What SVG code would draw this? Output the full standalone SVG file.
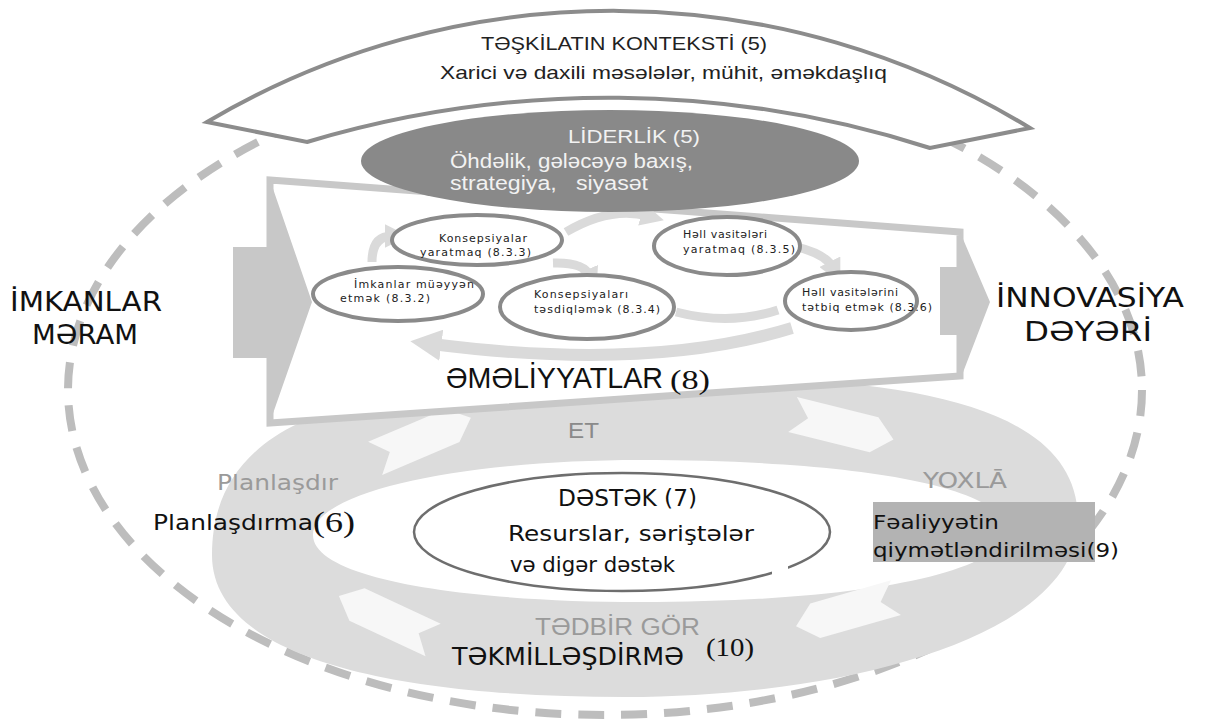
<svg xmlns="http://www.w3.org/2000/svg" width="1208" height="723" viewBox="0 0 1208 723">
<style>
.cond{font-family:"Liberation Sans Narrow","Liberation Sans",sans-serif}
.ver{font-family:"DejaVu Sans","Liberation Sans",sans-serif}
.ser{font-family:"Liberation Serif","DejaVu Serif",serif}
.node ellipse{fill:#fff;stroke:#8a8a8a;stroke-width:4}
.node text{font-family:"DejaVu Sans",sans-serif;font-size:11px;fill:#222}
.loop{fill:none;stroke:#dadada;stroke-width:9}
.chev{fill:#f7f7f7}
</style>
<defs>
<marker id="ah" viewBox="0 0 10 10" refX="3" refY="5" markerWidth="2.6" markerHeight="2.6" orient="auto" markerUnits="strokeWidth">
<path d="M0,0 L10,5 L0,10 Z" fill="#dadada"/>
</marker>
<path id="chevron" d="M-52,-18 L32,-18 L52,0 L32,18 L-52,18 L-36,0 Z"/>
</defs>
<rect width="1208" height="723" fill="#fff"/>

<ellipse cx="605" cy="390" rx="537" ry="325" fill="none" stroke="#bdbdbd" stroke-width="8" stroke-dasharray="26 17"/>

<g id="cycle">
<path fill="#dcdcdc" fill-rule="evenodd" d="M212,555 C212,400 400,378 640,378 C910,372 1078,405 1078,520 C1078,635 850,697 625,697 C400,697 212,660 212,555 Z M313,535 C313,490 470,460 640,460 C850,460 1005,485 1005,530 C1005,575 850,602 640,602 C470,602 313,580 313,535 Z"/>
<use href="#chevron" class="chev" transform="translate(423,438) rotate(-23)"/>
<use href="#chevron" class="chev" transform="translate(843,427) rotate(14)"/>
<use href="#chevron" class="chev" transform="translate(846,612) rotate(164)"/>
<use href="#chevron" class="chev" transform="translate(386,618) rotate(205)"/>
</g>

<g id="support">
<ellipse cx="622" cy="532" rx="208" ry="59" fill="#fff" stroke="#6e6e6e" stroke-width="2.5"/>
<rect x="772" y="566" width="16" height="16" fill="#fff"/>
</g>

<g id="operations">
<path d="M270,180 L960,232 L960,376 L270,423 Z" fill="#fff" stroke="#c8c8c8" stroke-width="7" stroke-linejoin="miter"/>
<polygon points="233,247 270,247 270,180 312,302 270,422 270,358 233,358" fill="#c8c8c8"/>
<polygon points="940,267 960,267 960,232 990,302 962,375 962,335 940,335" fill="#c8c8c8"/>
</g>

<g id="connectors">
<path class="loop" d="M372,262 Q372,236 392,236" marker-end="url(#ah)"/>
<path class="loop" d="M566,232 Q610,206 648,216" marker-end="url(#ah)"/>
<path class="loop" d="M553,263 Q584,262 590,276" marker-end="url(#ah)"/>
<path class="loop" d="M797,247 Q826,254 833,268" marker-end="url(#ah)"/>
<path class="loop" d="M676,312 Q730,326 778,310"/>
<path class="loop" style="stroke-width:12" d="M792,328 Q650,372 432,344" marker-end="url(#ah)"/>
</g>

<g id="node-8-3-3" class="node">
<ellipse cx="477" cy="240" rx="85" ry="25"/>
<text x="439" y="242" textLength="88">Konsepsiyalar</text>
<text x="420" y="256" textLength="111">yaratmaq (8.3.3)</text>
</g>
<g id="node-8-3-2" class="node">
<ellipse cx="398" cy="294" rx="85" ry="27"/>
<text x="354" y="288" textLength="120">İmkanlar müəyyən</text>
<text x="340" y="302" textLength="90">etmək (8.3.2)</text>
</g>
<g id="node-8-3-4" class="node">
<ellipse cx="587" cy="307" rx="87" ry="32"/>
<text x="534" y="298" textLength="94">Konsepsiyaları</text>
<text x="534" y="313" textLength="126">təsdiqləmək (8.3.4)</text>
</g>
<g id="node-8-3-5" class="node">
<ellipse cx="727" cy="246" rx="73" ry="29"/>
<text x="683" y="238" textLength="84">Həll vasitələri</text>
<text x="683" y="253" textLength="112">yaratmaq (8.3.5)</text>
</g>
<g id="node-8-3-6" class="node">
<ellipse cx="851" cy="301" rx="66" ry="29"/>
<text x="802" y="296" textLength="96">Həll vasitələrini</text>
<text x="802" y="311" textLength="130">tətbiq etmək (8.3.6)</text>
</g>

<g id="context">
<path d="M207,122 A799,799 0 0 1 1030,128 L930,148 A1050,1050 0 0 0 307,142 Z" fill="#fff" stroke="#8c8c8c" stroke-width="4" stroke-linejoin="miter"/>
<text class="cond" x="481" y="50" font-size="19" fill="#222" textLength="286" lengthAdjust="spacingAndGlyphs">TƏŞKİLATIN KONTEKSTİ (5)</text>
<text class="cond" x="440" y="79" font-size="19" fill="#222" textLength="447" lengthAdjust="spacingAndGlyphs">Xarici və daxili məsələlər, mühit, əməkdaşlıq</text>
</g>

<g id="leadership">
<ellipse cx="610" cy="161" rx="249" ry="51" fill="#898989"/>
<text class="cond" x="568" y="143" font-size="19" fill="#f2f2f2" textLength="132" lengthAdjust="spacingAndGlyphs">LİDERLİK (5)</text>
<text class="cond" x="450" y="168" font-size="20" fill="#f2f2f2" textLength="243" lengthAdjust="spacingAndGlyphs">Öhdəlik, gələcəyə baxış,</text>
<text class="cond" x="450" y="190" font-size="20" fill="#f2f2f2" textLength="198" lengthAdjust="spacingAndGlyphs" style="white-space:pre">strategiya,   siyasət</text>
</g>

<g id="operations-label">
<text class="cond" x="446" y="388" font-size="29" fill="#111" textLength="217" lengthAdjust="spacingAndGlyphs">ƏMƏLİYYATLAR</text>
<text class="ser" x="670" y="389" font-size="27" fill="#111" textLength="40" lengthAdjust="spacingAndGlyphs">(8)</text>
</g>

<g id="opportunities">
<text class="ver" x="10" y="311" font-size="26" fill="#111" textLength="152" lengthAdjust="spacingAndGlyphs">İMKANLAR</text>
<text class="ver" x="32" y="344" font-size="26" fill="#111" textLength="106" lengthAdjust="spacingAndGlyphs">MƏRAM</text>
</g>
<g id="innovation">
<text class="ver" x="996" y="307" font-size="26" fill="#111" textLength="188" lengthAdjust="spacingAndGlyphs">İNNOVASİYA</text>
<text class="ver" x="1024" y="341" font-size="26" fill="#111" textLength="128" lengthAdjust="spacingAndGlyphs">DƏYƏRİ</text>
</g>

<g id="do">
<text class="cond" x="568" y="438" font-size="22" fill="#8a8a8a" textLength="31" lengthAdjust="spacingAndGlyphs">ET</text>
</g>
<g id="plan">
<text class="ver" x="217" y="490" font-size="21" fill="#9a9a9a" textLength="121" lengthAdjust="spacingAndGlyphs">Planlaşdır</text>
<text class="ver" x="153" y="530" font-size="22" fill="#111" textLength="160" lengthAdjust="spacingAndGlyphs">Planlaşdırma</text>
<text class="ser" x="313" y="532" font-size="30" fill="#111" textLength="42" lengthAdjust="spacingAndGlyphs">(6)</text>
</g>
<g id="support-text">
<text class="ver" x="558" y="506" font-size="23" fill="#111" textLength="139" lengthAdjust="spacingAndGlyphs">DƏSTƏK (7)</text>
<text class="ver" x="508" y="541" font-size="21" fill="#111" textLength="246" lengthAdjust="spacingAndGlyphs">Resurslar, səriştələr</text>
<text class="ver" x="510" y="572" font-size="21" fill="#111" textLength="165" lengthAdjust="spacingAndGlyphs">və digər dəstək</text>
</g>
<g id="check">
<text class="ver" x="923" y="488" font-size="22" fill="#9a9a9a" textLength="84" lengthAdjust="spacingAndGlyphs">YOXLĀ</text>
<rect x="873" y="502" width="222" height="60" fill="#b3b3b3"/>
<text class="ver" x="873" y="529" font-size="20" fill="#111" textLength="126" lengthAdjust="spacingAndGlyphs">Fəaliyyətin</text>
<text class="ver" x="873" y="557" font-size="20" fill="#111" textLength="246" lengthAdjust="spacingAndGlyphs">qiymətləndirilməsi(9)</text>
</g>
<g id="act">
<text class="cond" x="535" y="635" font-size="23" fill="#9a9a9a" textLength="165" lengthAdjust="spacingAndGlyphs">TƏDBİR GÖR</text>
<text class="ver" x="452" y="665" font-size="24" fill="#111" textLength="232" lengthAdjust="spacingAndGlyphs">TƏKMİLLƏŞDİRMƏ</text>
<text class="ser" x="706" y="656" font-size="26" fill="#111" textLength="48" lengthAdjust="spacingAndGlyphs">(10)</text>
</g>
</svg>
